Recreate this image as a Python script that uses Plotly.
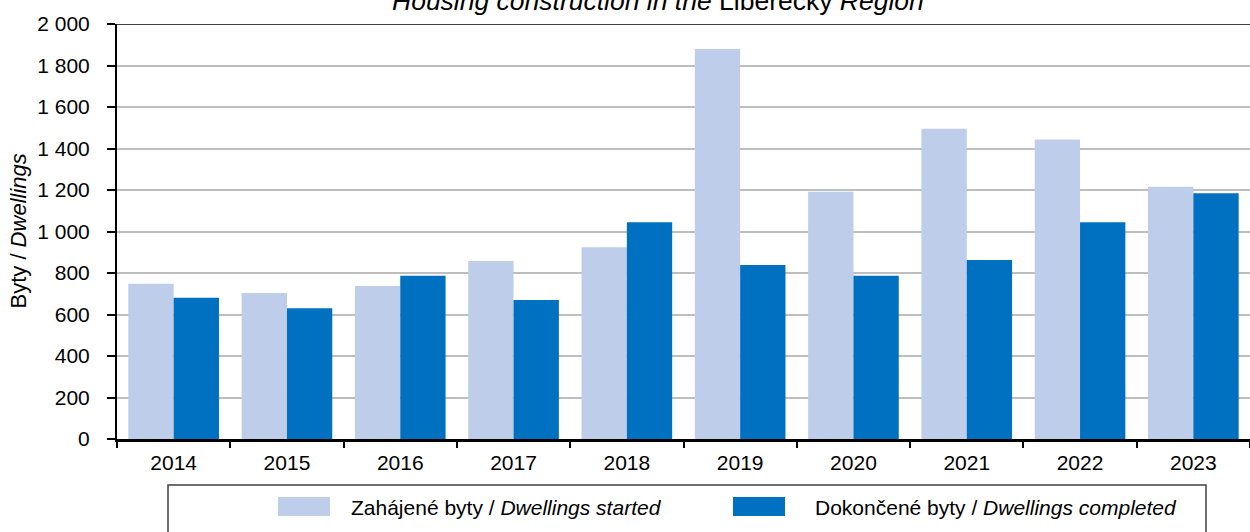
import plotly.graph_objects as go

# Housing construction, Liberecký Region
years = ["2014", "2015", "2016", "2017", "2018", "2019", "2020", "2021", "2022", "2023"]
started = [748, 704, 737, 858, 924, 1880, 1192, 1495, 1443, 1216]
completed = [681, 630, 787, 670, 1044, 838, 787, 863, 1044, 1184]

name_started = "Zahájené byty / <i>Dwellings started</i>"
name_completed = "Dokončené byty / <i>Dwellings completed</i>"
y_ticks = [0, 200, 400, 600, 800, 1000, 1200, 1400, 1600, 1800, 2000]

C_LIGHT = "#BDCDEA"
C_DARK = "#0070C0"
FONT = "Liberation Sans, Arial, sans-serif"

W, H = 1250, 532
L, R, T, B = 117, 0, 24, 93
PW, PH = W - L - R, H - T - B


def px(x):
    return (x - L) / PW


def py(y):
    return (H - B - y) / PH


fig = go.Figure()
fig.add_bar(x=years, y=started, name=name_started, marker_color=C_LIGHT,
            marker_line_width=0, showlegend=False)
fig.add_bar(x=years, y=completed, name=name_completed, marker_color=C_DARK,
            marker_line_width=0, showlegend=False)

fig.update_layout(
    width=W, height=H,
    margin=dict(l=L, r=R, t=T, b=B),
    paper_bgcolor="white", plot_bgcolor="white",
    barmode="group", bargap=0.2, bargroupgap=0,
    separators=", ",
    font=dict(family=FONT, size=21, color="black"),
)

fig.update_xaxes(
    type="category", showline=True, linecolor="black", linewidth=3,
    ticks="outside", tickson="boundaries", ticklen=6, tickwidth=2, tickcolor="black",
    showgrid=False, tickfont=dict(size=21), ticklabelstandoff=3,
)
fig.update_yaxes(
    range=[0, 2000], tickvals=y_ticks, tickformat=",d",
    showline=True, linecolor="black", linewidth=2,
    ticks="outside", ticklen=8, tickwidth=2, tickcolor="black",
    showgrid=True, gridcolor="#BEBEBE", gridwidth=1.5,
    tickfont=dict(size=21), ticklabelstandoff=13, zeroline=False,
)

# top frame line
fig.add_shape(type="line", xref="paper", yref="y", x0=0, x1=1, y0=2000, y1=2000,
              line=dict(color="black", width=1.5))

# chart title (upper part falls outside the page)
fig.add_annotation(xref="paper", yref="paper", x=px(658), y=py(1),
                   text="<i>Housing construction in the </i>Liberecký<i> Region</i>",
                   showarrow=False, xanchor="center", yanchor="middle",
                   font=dict(size=26.5))

# y axis title
fig.add_annotation(xref="paper", yref="paper", x=px(18), y=0.5,
                   text="Byty / <i>Dwellings</i>", textangle=-90,
                   showarrow=False, xanchor="center", yanchor="middle",
                   font=dict(size=22))

# legend box
fig.add_shape(type="rect", xref="paper", yref="paper",
              x0=px(168), x1=px(1206), y0=py(485), y1=py(560),
              line=dict(color="#404040", width=1.5), fillcolor="rgba(0,0,0,0)")
for sx, tx, color, label in [(278, 349, C_LIGHT, name_started),
                             (733, 813, C_DARK, name_completed)]:
    fig.add_shape(type="rect", xref="paper", yref="paper",
                  x0=px(sx), x1=px(sx + 52), y0=py(497), y1=py(516),
                  line=dict(width=0), fillcolor=color)
    fig.add_annotation(xref="paper", yref="paper", x=px(tx), y=py(507),
                       text=label, showarrow=False, xanchor="left", yanchor="middle",
                       font=dict(size=21))

fig.write_html("out.html")
